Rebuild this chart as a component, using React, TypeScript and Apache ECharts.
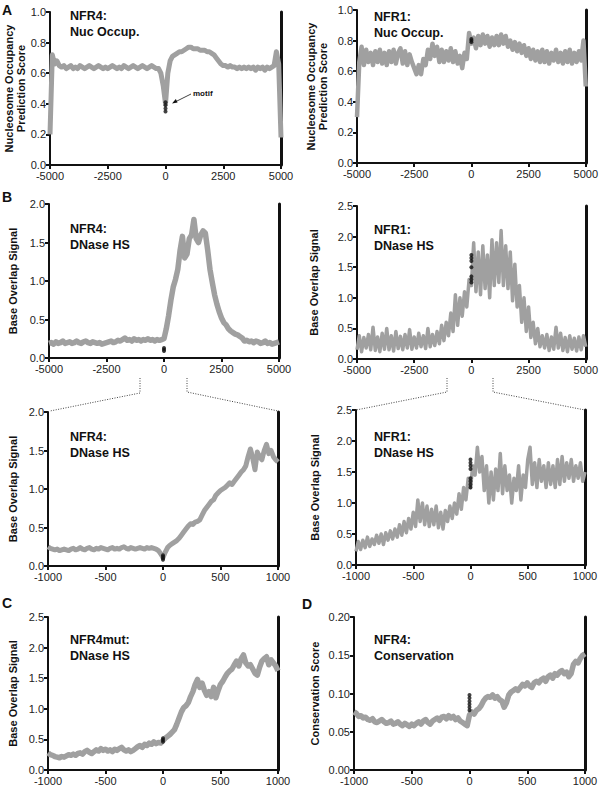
import React, { useEffect, useRef } from 'react';
import * as echarts from 'echarts';

// ---------- DATA ----------
const wideTicks = [-5000, -2500, 0, 2500, 5000];
const zoomTicks = [-1000, -500, 0, 500, 1000];
const wideStep = 100;
const zoomStep = 20;

// A left: NFR4 nucleosome occupancy prediction score, -5000..5000 step 100
const nfr4NucValues = [
  0.20, 0.72, 0.66, 0.68, 0.65, 0.64, 0.65, 0.63, 0.64, 0.65,
  0.63, 0.64, 0.63, 0.65, 0.64, 0.63, 0.64, 0.65, 0.64, 0.63,
  0.64, 0.65, 0.64, 0.63, 0.64, 0.63, 0.64, 0.65, 0.64, 0.63,
  0.64, 0.63, 0.65, 0.64, 0.63, 0.64, 0.65, 0.64, 0.63, 0.64,
  0.65, 0.64, 0.63, 0.64, 0.65, 0.64, 0.63, 0.63, 0.60, 0.52,
  0.40,
  0.60, 0.68, 0.71, 0.72, 0.73, 0.74, 0.74, 0.75, 0.76, 0.77,
  0.77, 0.76, 0.76, 0.76, 0.75, 0.75, 0.75, 0.74, 0.74, 0.73,
  0.72, 0.70, 0.68, 0.66, 0.65, 0.65, 0.64, 0.65, 0.64, 0.64,
  0.63, 0.64, 0.63, 0.64, 0.63, 0.64, 0.63, 0.64, 0.62, 0.64,
  0.63, 0.64, 0.62, 0.64, 0.63, 0.64, 0.65, 0.74, 0.66, 0.18,
];
const nfr4NucMotif = [0.35, 0.37, 0.39, 0.41];

// A right: NFR1 nucleosome occupancy prediction score
const nfr1NucValues = [
  0.30, 0.66, 0.76, 0.64, 0.74, 0.66, 0.72, 0.64, 0.73, 0.66,
  0.74, 0.65, 0.72, 0.64, 0.73, 0.66, 0.74, 0.65, 0.72, 0.75,
  0.65, 0.73, 0.64, 0.71, 0.66, 0.62, 0.58, 0.64, 0.58, 0.68,
  0.64, 0.74, 0.68, 0.78, 0.70, 0.76, 0.66, 0.74, 0.66, 0.73,
  0.67, 0.75, 0.66, 0.73, 0.65, 0.70, 0.62, 0.72, 0.68, 0.85,
  0.78,
  0.82, 0.75, 0.83, 0.77, 0.84, 0.78, 0.83, 0.76, 0.82, 0.77,
  0.83, 0.77, 0.84, 0.78, 0.83, 0.76, 0.80, 0.74, 0.79, 0.73,
  0.78, 0.72, 0.77, 0.70, 0.75, 0.68, 0.74, 0.67, 0.73, 0.66,
  0.74, 0.66, 0.73, 0.65, 0.72, 0.67, 0.74, 0.66, 0.72, 0.65,
  0.73, 0.66, 0.74, 0.65, 0.72, 0.66, 0.73, 0.67, 0.80, 0.50,
];
const nfr1NucMotif = [0.79, 0.80, 0.81];

// B top left: NFR4 DNase HS, -5000..5000
const nfr4DnaseWideValues = [
  0.19, 0.20, 0.18, 0.21, 0.19, 0.20, 0.22, 0.19, 0.20, 0.21,
  0.19, 0.20, 0.22, 0.20, 0.19, 0.21, 0.22, 0.20, 0.19, 0.21,
  0.20, 0.19, 0.20, 0.18, 0.19, 0.20, 0.21, 0.22, 0.20, 0.21,
  0.23, 0.22, 0.24, 0.26, 0.23, 0.24, 0.22, 0.25, 0.23, 0.24,
  0.22, 0.24, 0.23, 0.25, 0.23, 0.24, 0.22, 0.24, 0.23, 0.24,
  0.25,
  0.38, 0.55, 0.75, 0.92, 1.02, 1.15, 1.40, 1.58, 1.30, 1.35,
  1.55, 1.60, 1.80, 1.55, 1.50, 1.60, 1.65, 1.62, 1.40, 1.15,
  0.98, 0.82, 0.70, 0.60, 0.52, 0.46, 0.43, 0.38, 0.35, 0.33,
  0.31, 0.30, 0.28, 0.26, 0.22, 0.23, 0.21, 0.22, 0.20, 0.22,
  0.21, 0.19, 0.20, 0.22, 0.19, 0.20, 0.18, 0.19, 0.20, 0.21,
];
const nfr4DnaseWideMotif = [0.09, 0.11, 0.13];

// B top right: NFR1 DNase HS, -5000..5000 (scatter cloud, low/high alternation)
const nfr1DnaseWideValues = [
  0.15, 0.38, 0.12, 0.35, 0.18, 0.40, 0.15, 0.52, 0.14, 0.36,
  0.12, 0.42, 0.16, 0.50, 0.15, 0.38, 0.13, 0.45, 0.17, 0.37,
  0.15, 0.40, 0.18, 0.48, 0.16, 0.36, 0.18, 0.42, 0.20, 0.38,
  0.17, 0.50, 0.20, 0.40, 0.22, 0.45, 0.25, 0.55, 0.30, 0.60,
  0.38, 0.75, 0.45, 1.05, 0.55, 1.00, 0.70, 1.10, 0.85, 1.30,
  1.20,
  1.90, 1.10, 1.75, 1.05, 1.85, 1.15, 1.70, 1.00, 1.95, 1.20,
  1.90, 1.25, 2.10, 1.20, 1.85, 1.15, 1.75, 0.95, 1.55, 0.85,
  1.20, 0.60, 1.00, 0.45, 0.85, 0.35, 0.60, 0.25, 0.50, 0.20,
  0.38, 0.18, 0.40, 0.14, 0.36, 0.16, 0.52, 0.18, 0.42, 0.14,
  0.35, 0.12, 0.38, 0.16, 0.34, 0.13, 0.36, 0.15, 0.38, 0.20,
];
const nfr1DnaseWideMotif = [1.25, 1.30, 1.35, 1.50, 1.60, 1.65, 1.70];

// B bottom left: NFR4 DNase HS, -1000..1000 step 20
const nfr4DnaseZoomValues = [
  0.25, 0.23, 0.22, 0.21, 0.22, 0.20, 0.21, 0.22, 0.21, 0.20,
  0.22, 0.23, 0.21, 0.22, 0.24, 0.22, 0.21, 0.23, 0.24, 0.22,
  0.21, 0.23, 0.22, 0.24, 0.23, 0.22, 0.21, 0.23, 0.24, 0.22,
  0.23, 0.22, 0.24, 0.25, 0.23, 0.22, 0.24, 0.23, 0.22, 0.23,
  0.24, 0.23, 0.22, 0.24, 0.23, 0.24, 0.23, 0.22, 0.20, 0.16,
  0.11,
  0.18, 0.24, 0.27, 0.29, 0.31, 0.33, 0.36, 0.40, 0.44, 0.48,
  0.52, 0.55, 0.54, 0.57, 0.58, 0.60, 0.66, 0.72, 0.76, 0.80,
  0.84, 0.86, 0.92, 0.95, 0.98, 1.00, 1.02, 1.05, 1.08, 1.06,
  1.10, 1.14, 1.18, 1.22, 1.25, 1.30, 1.42, 1.52, 1.40, 1.25,
  1.48, 1.42, 1.38, 1.50, 1.58, 1.46, 1.50, 1.42, 1.38, 1.35,
];
const nfr4DnaseZoomMotif = [0.08, 0.10, 0.12, 0.14];

// B bottom right: NFR1 DNase HS, -1000..1000
const nfr1DnaseZoomValues = [
  0.22, 0.38, 0.25, 0.40, 0.28, 0.45, 0.30, 0.42, 0.33, 0.48,
  0.35, 0.50, 0.33, 0.52, 0.40, 0.55, 0.42, 0.58, 0.45, 0.65,
  0.48, 0.70, 0.52, 0.75, 0.58, 0.85, 0.62, 1.05, 0.70, 1.00,
  0.65, 0.95, 0.62, 0.90, 0.65, 0.95, 0.60, 0.85, 0.58, 0.88,
  0.70, 0.95, 0.75, 1.00, 0.82, 1.15, 0.90, 1.25, 1.05, 1.40,
  1.25,
  1.60, 1.45, 1.90, 1.50, 1.75, 1.20, 1.60, 1.00, 1.50, 1.05,
  1.55, 1.20, 1.80, 1.15, 1.60, 1.20, 1.45, 1.00, 1.40, 1.20,
  1.60, 1.05, 1.45, 1.25, 1.70, 1.90, 1.30, 1.65, 1.25, 1.70,
  1.35, 1.60, 1.25, 1.65, 1.30, 1.60, 1.25, 1.70, 1.30, 1.75,
  1.35, 1.65, 1.40, 1.70, 1.35, 1.60, 1.40, 1.65, 1.35, 1.50,
];
const nfr1DnaseZoomMotif = [1.25, 1.30, 1.35, 1.40, 1.55, 1.60, 1.65, 1.70];

// C: NFR4mut DNase HS, -1000..1000
const nfr4mutDnaseValues = [
  0.28, 0.25, 0.24, 0.22, 0.21, 0.20, 0.22, 0.21, 0.23, 0.25,
  0.24, 0.26, 0.24, 0.27, 0.28, 0.26, 0.30, 0.32, 0.29, 0.27,
  0.30, 0.33, 0.31, 0.35, 0.32, 0.34, 0.31, 0.33, 0.30, 0.34,
  0.32, 0.35, 0.37, 0.33, 0.31, 0.33, 0.30, 0.32, 0.35, 0.38,
  0.40, 0.37, 0.42, 0.40, 0.44, 0.42, 0.46, 0.43, 0.45, 0.44,
  0.48,
  0.52, 0.55, 0.58, 0.62, 0.66, 0.75, 0.85, 0.95, 1.02, 1.05,
  1.10, 1.20, 1.28, 1.40, 1.48, 1.35, 1.42, 1.30, 1.22, 1.28,
  1.20, 1.35, 1.18, 1.30, 1.40, 1.45, 1.52, 1.58, 1.62, 1.65,
  1.72, 1.78, 1.70, 1.82, 1.88, 1.75, 1.70, 1.72, 1.65, 1.58,
  1.55, 1.68, 1.78, 1.82, 1.85, 1.72, 1.80, 1.75, 1.70, 1.62,
];
const nfr4mutMotif = [0.46, 0.49, 0.52];

// D: NFR4 conservation score, -1000..1000
const nfr4ConservationValues = [
  0.076, 0.074, 0.070, 0.071, 0.068, 0.069, 0.066, 0.065, 0.067, 0.063,
  0.062, 0.064, 0.066, 0.063, 0.061, 0.062, 0.064, 0.060, 0.061, 0.063,
  0.060, 0.058, 0.061, 0.059, 0.057, 0.060, 0.058, 0.061, 0.063, 0.060,
  0.064, 0.066, 0.062, 0.060, 0.064, 0.066, 0.068, 0.065, 0.069, 0.070,
  0.067, 0.071, 0.068, 0.070, 0.066, 0.068, 0.064, 0.062, 0.060, 0.058,
  0.072,
  0.076, 0.073, 0.078, 0.080, 0.084, 0.090, 0.094, 0.096, 0.095, 0.098,
  0.094, 0.096, 0.092, 0.090, 0.082, 0.088, 0.098, 0.102, 0.104, 0.106,
  0.104, 0.108, 0.112, 0.110, 0.114, 0.110, 0.108, 0.114, 0.116, 0.114,
  0.118, 0.120, 0.116, 0.122, 0.124, 0.120, 0.126, 0.124, 0.128, 0.130,
  0.126, 0.128, 0.122, 0.126, 0.138, 0.142, 0.140, 0.146, 0.150, 0.152,
];
const conservationMotif = [0.078, 0.082, 0.086, 0.090, 0.094, 0.098];

// ---------- LAYOUT / STYLE ----------
const FONT = '"Liberation Sans", Arial, Helvetica, sans-serif';
const GRAY = '#a0a0a0';
const INK = '#111111';

type Panel = {
  left: number; top: number; width: number; height: number;
  ticks: number[]; step: number; yMax: number; yInterval: number; digits: number;
  values: number[]; motif: number[]; lineWidth: number;
  yName: string; nameGap: number; title: string; titleX: number; titleY: number;
};

const panels: Panel[] = [
  { left: 50, top: 12, width: 231, height: 153, ticks: wideTicks, step: wideStep, yMax: 1, yInterval: 0.2, digits: 1,
    values: nfr4NucValues, motif: nfr4NucMotif, lineWidth: 5,
    yName: 'Nucleosome Occupancy\nPrediction Score', nameGap: 21, title: 'NFR4:\nNuc Occup.', titleX: 70, titleY: 8 },
  { left: 357, top: 10, width: 230, height: 153, ticks: wideTicks, step: wideStep, yMax: 1, yInterval: 0.2, digits: 1,
    values: nfr1NucValues, motif: nfr1NucMotif, lineWidth: 4.5,
    yName: 'Nucleosome Occupancy\nPrediction Score', nameGap: 28, title: 'NFR1:\nNuc Occup.', titleX: 374, titleY: 9 },
  { left: 49, top: 204, width: 230, height: 154, ticks: wideTicks, step: wideStep, yMax: 2, yInterval: 0.5, digits: 1,
    values: nfr4DnaseWideValues, motif: nfr4DnaseWideMotif, lineWidth: 5.5,
    yName: 'Base Overlap Signal', nameGap: 30, title: 'NFR4:\nDNase HS', titleX: 70, titleY: 221 },
  { left: 357, top: 206, width: 230, height: 153, ticks: wideTicks, step: wideStep, yMax: 2.5, yInterval: 0.5, digits: 1,
    values: nfr1DnaseWideValues, motif: nfr1DnaseWideMotif, lineWidth: 3.5,
    yName: 'Base Overlap Signal', nameGap: 37, title: 'NFR1:\nDNase HS', titleX: 374, titleY: 222 },
  { left: 48, top: 412, width: 230, height: 154, ticks: zoomTicks, step: zoomStep, yMax: 2, yInterval: 0.5, digits: 1,
    values: nfr4DnaseZoomValues, motif: nfr4DnaseZoomMotif, lineWidth: 5,
    yName: 'Base Overlap Signal', nameGap: 29, title: 'NFR4:\nDNase HS', titleX: 70, titleY: 429 },
  { left: 356, top: 410, width: 229, height: 155, ticks: zoomTicks, step: zoomStep, yMax: 2.5, yInterval: 0.5, digits: 1,
    values: nfr1DnaseZoomValues, motif: nfr1DnaseZoomMotif, lineWidth: 3.5,
    yName: 'Base Overlap Signal', nameGap: 35, title: 'NFR1:\nDNase HS', titleX: 374, titleY: 429 },
  { left: 48, top: 617, width: 230, height: 153, ticks: zoomTicks, step: zoomStep, yMax: 2.5, yInterval: 0.5, digits: 1,
    values: nfr4mutDnaseValues, motif: nfr4mutMotif, lineWidth: 5.5,
    yName: 'Base Overlap Signal', nameGap: 29, title: 'NFR4mut:\nDNase HS', titleX: 70, titleY: 632 },
  { left: 354, top: 617, width: 231, height: 153, ticks: zoomTicks, step: zoomStep, yMax: 0.2, yInterval: 0.05, digits: 2,
    values: nfr4ConservationValues, motif: conservationMotif, lineWidth: 5.5,
    yName: 'Conservation Score', nameGap: 33, title: 'NFR4:\nConservation', titleX: 374, titleY: 632 },
];

const panelLetters = [
  { text: 'A', x: 2, y: 3 },
  { text: 'B', x: 2, y: 190 },
  { text: 'C', x: 2, y: 596 },
  { text: 'D', x: 302, y: 597 },
];

const zoomConnectors = [
  [[140, 378], [140, 393], [50, 411]],
  [[187, 378], [187, 392], [278, 411]],
  [[447, 378], [447, 392], [356, 410]],
  [[493, 378], [493, 392], [585, 410]],
];

function buildOption() {
  const grid = panels.map((p) => ({ left: p.left, top: p.top, width: p.width, height: p.height }));
  const xAxis = panels.map((p, i) => ({
    type: 'value', gridIndex: i,
    min: p.ticks[0], max: p.ticks[p.ticks.length - 1], interval: p.ticks[1] - p.ticks[0],
    axisLine: { show: true, onZero: false, lineStyle: { color: INK, width: 2 } },
    axisTick: { show: true, length: 4, lineStyle: { color: INK, width: 2 } },
    axisLabel: {
      fontSize: 11, color: '#222', margin: 5, fontFamily: FONT, showMinLabel: true, showMaxLabel: true,
      formatter: (v: number) => String(v),
    },
    splitLine: { show: false },
  }));
  const yAxis: any[] = [];
  panels.forEach((p, i) => {
    yAxis.push({
      type: 'value', gridIndex: i, position: 'left', min: 0, max: p.yMax, interval: p.yInterval,
      name: p.yName, nameLocation: 'middle', nameGap: p.nameGap, nameRotate: 90,
      nameTextStyle: { fontWeight: 'bold', fontSize: 11, color: INK, fontFamily: FONT, lineHeight: 12 },
      axisLine: { show: true, onZero: false, lineStyle: { color: INK, width: 2 } },
      axisTick: { show: true, length: 4, lineStyle: { color: INK, width: 2 } },
      axisLabel: { fontSize: 11, color: '#222', margin: 4, fontFamily: FONT, formatter: (v: number) => v.toFixed(p.digits) },
      splitLine: { show: false },
    });
    yAxis.push({
      type: 'value', gridIndex: i, position: 'right', min: 0, max: p.yMax, interval: p.yInterval,
      axisLine: { show: true, onZero: false, lineStyle: { color: INK, width: 3 } },
      axisTick: { show: false }, axisLabel: { show: false }, splitLine: { show: false },
    });
  });
  const series: any[] = [];
  panels.forEach((p, i) => {
    const x0 = p.ticks[0];
    series.push({
      type: 'line', xAxisIndex: i, yAxisIndex: 2 * i, symbol: 'none', silent: true,
      data: p.values.map((v, k) => [x0 + k * p.step, v]),
      lineStyle: { color: GRAY, width: p.lineWidth, join: 'round' }, z: 2,
    });
    series.push({
      type: 'scatter', xAxisIndex: i, yAxisIndex: 2 * i, silent: true, symbolSize: 4,
      data: p.motif.map((v) => [0, v]), itemStyle: { color: INK }, z: 3,
    });
  });

  const graphic: any[] = [];
  panels.forEach((p) => {
    graphic.push({
      type: 'text', x: p.titleX, y: p.titleY, silent: true,
      style: { text: p.title, font: `bold 12.5px ${FONT}`, fill: INK, lineHeight: 16, verticalAlign: 'top', align: 'left' },
    });
  });
  panelLetters.forEach((l) => {
    graphic.push({
      type: 'text', x: l.x, y: l.y, silent: true,
      style: { text: l.text, font: `bold 14px ${FONT}`, fill: INK, verticalAlign: 'top', align: 'left' },
    });
  });
  zoomConnectors.forEach((pts) => {
    graphic.push({
      type: 'polyline', silent: true, shape: { points: pts },
      style: { stroke: '#444', lineWidth: 1, lineDash: [1, 1.5], fill: 'none' },
    });
  });
  // "motif" annotation with arrow
  graphic.push({
    type: 'text', x: 193, y: 93, silent: true,
    style: { text: 'motif', font: `bold 8px ${FONT}`, fill: INK, verticalAlign: 'middle', align: 'left' },
  });
  graphic.push({
    type: 'line', silent: true, shape: { x1: 191, y1: 94, x2: 175, y2: 102 },
    style: { stroke: INK, lineWidth: 0.8 },
  });
  graphic.push({
    type: 'polygon', silent: true, shape: { points: [[172, 103.5], [177.6, 102.6], [175.8, 99]] },
    style: { fill: INK },
  });

  return {
    animation: false,
    backgroundColor: '#ffffff',
    textStyle: { fontFamily: FONT },
    grid, xAxis, yAxis, series, graphic,
  };
}

export default function App() {
  const ref = useRef<HTMLDivElement>(null);
  useEffect(() => {
    if (!ref.current) return;
    const chart = echarts.init(ref.current, null, { renderer: 'svg' });
    chart.setOption(buildOption() as any);
    return () => chart.dispose();
  }, []);
  return (
    <div
      ref={ref}
      style={{ position: 'fixed', left: 0, top: 0, width: 601, height: 789, background: '#fff' }}
    />
  );
}
